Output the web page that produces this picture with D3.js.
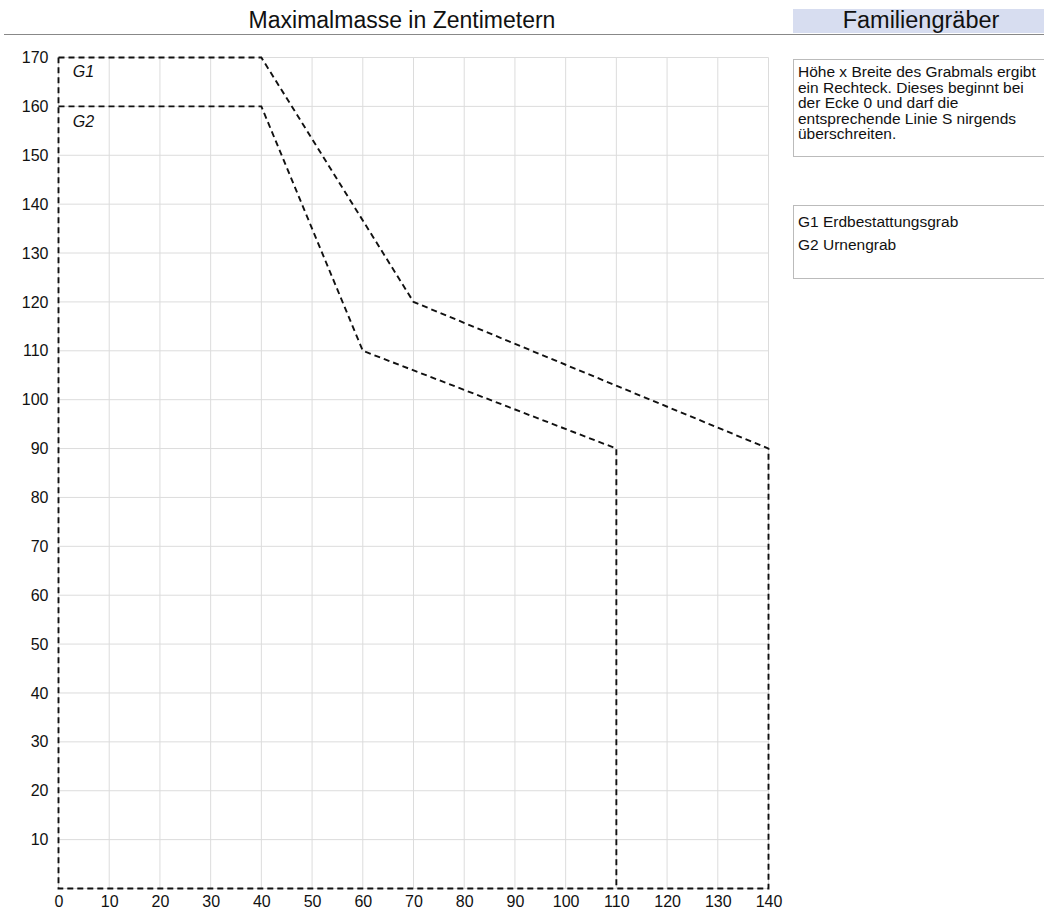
<!DOCTYPE html>
<html><head><meta charset="utf-8">
<script src="https://cdn.jsdelivr.net/npm/d3@7"></script>
<style>body{margin:0;background:#fff;font-family:"Liberation Sans",Arial,sans-serif;}</style>
</head><body>
<svg id="c" width="1044" height="912"></svg>
<script>
const title = "Maximalmasse in Zentimetern";
const sideTitle = "Familiengräber";
const noteLines = ["Höhe x Breite des Grabmals ergibt","ein Rechteck. Dieses beginnt bei","der Ecke 0 und darf die","entsprechende Linie S nirgends","überschreiten."];
const legendLines = ["G1 Erdbestattungsgrab","G2 Urnengrab"];
const xTicks = [0,10,20,30,40,50,60,70,80,90,100,110,120,130,140];
const yTicks = [10,20,30,40,50,60,70,80,90,100,110,120,130,140,150,160,170];
const g1Width = [0,40,70,140,140,0,0];
const g1Height = [170,170,120,90,0,0,170];
const g2Width = [0,40,60,110,110];
const g2Height = [160,160,110,90,0];
const seriesLabels = [{name:"G1", x:2.8, y:166},{name:"G2", x:2.8, y:155.7}];

const svg = d3.select("#c");
const x = d3.scaleLinear().domain([0,140]).range([58.5,768.5]);
const y = d3.scaleLinear().domain([0,170]).range([888.5,57.5]);
const FONT = "Liberation Sans, Arial, sans-serif";

// header
svg.append("text").attr("x",402).attr("y",28).attr("text-anchor","middle")
  .attr("font-size",23).attr("fill","#111").text(title);
svg.append("rect").attr("x",793).attr("y",9).attr("width",251).attr("height",24).attr("fill","#d7ddf0");
svg.append("line").attr("x1",4).attr("x2",1044).attr("y1",34.5).attr("y2",34.5)
  .attr("stroke","#888").attr("stroke-width",1);
svg.append("text").attr("x",921).attr("y",28).attr("text-anchor","middle")
  .attr("font-size",23.5).attr("fill","#111").text(sideTitle);

// grid
const grid = svg.append("g");
grid.selectAll("line.v").data(xTicks).join("line").attr("class","v")
  .attr("x1",d=>x(d)).attr("x2",d=>x(d)).attr("y1",y(0)).attr("y2",y(170))
  .attr("stroke","#dcdcdc");
grid.selectAll("line.h").data(yTicks.concat([0])).join("line").attr("class","h")
  .attr("x1",x(0)).attr("x2",x(140)).attr("y1",d=>y(d)).attr("y2",d=>y(d))
  .attr("stroke","#dcdcdc");

// axes
const xAxis = svg.append("g").attr("transform",`translate(0,${y(0)})`)
  .call(d3.axisBottom(x).tickValues(xTicks).tickSize(0).tickPadding(7));
const yAxis = svg.append("g").attr("transform",`translate(${x(0)},0)`)
  .call(d3.axisLeft(y).tickValues(yTicks).tickSize(0).tickPadding(10));
[xAxis,yAxis].forEach(a=>{a.select(".domain").remove();
  a.attr("font-size",16).attr("font-family",FONT);
  a.selectAll("text").attr("fill","#111");});

// lines
const line = d3.line().x(d=>x(d[0])).y(d=>y(d[1]));
const s1 = g1Width.map((w,i)=>[w,g1Height[i]]);
const s2 = g2Width.map((w,i)=>[w,g2Height[i]]);
[s1,s2].forEach(s=>{
  svg.append("path").attr("d",line(s)).attr("fill","none").attr("stroke","#111")
    .attr("stroke-width",1.9).attr("stroke-dasharray","6,4");
});
svg.selectAll("text.sl").data(seriesLabels).join("text").attr("class","sl")
  .attr("x",d=>x(d.x)).attr("y",d=>y(d.y)).attr("font-size",16).attr("font-style","italic")
  .attr("fill","#111").text(d=>d.name);

// note boxes
svg.append("rect").attr("x",793.5).attr("y",59.5).attr("width",260).attr("height",97)
  .attr("fill","none").attr("stroke","#bbb");
svg.append("g").selectAll("text").data(noteLines).join("text")
  .attr("x",798).attr("y",(d,i)=>77+i*15.5).attr("font-size",15.5).attr("fill","#111").text(d=>d);
svg.append("rect").attr("x",793.5).attr("y",205.5).attr("width",260).attr("height",73)
  .attr("fill","none").attr("stroke","#bbb");
svg.append("g").selectAll("text").data(legendLines).join("text")
  .attr("x",798).attr("y",(d,i)=>227+i*23).attr("font-size",15.5).attr("fill","#111").text(d=>d);
</script>
</body></html>
